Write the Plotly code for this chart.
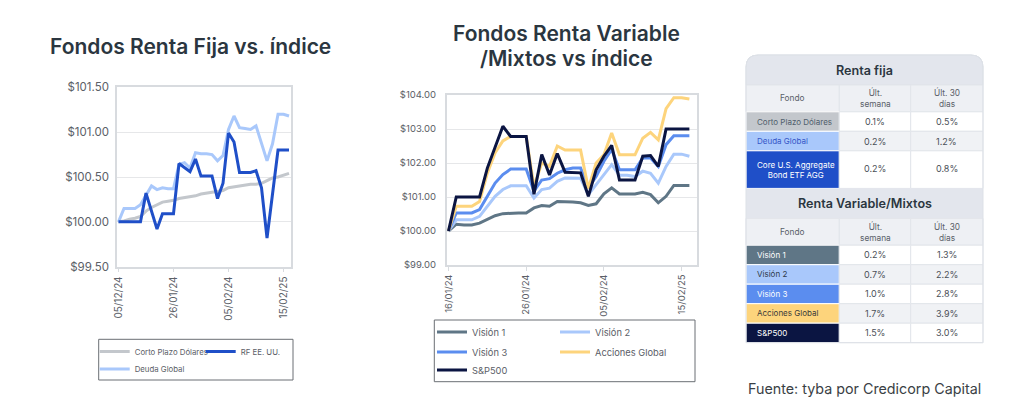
import plotly.graph_objects as go

W, H = 1024, 409
OFF = 8  # the page body adds an 8px margin around the figure
FONT = "Inter, sans-serif"

# ---------------- data ----------------
idx = list(range(32))

rf_tickvals = [0, 10, 20, 30]
rf_ticktext = ["05/12/24", "26/01/24", "05/02/24", "15/02/25"]

corto = [100.00, 100.01, 100.03, 100.04, 100.06, 100.12, 100.16, 100.19, 100.22, 100.23,
         100.24, 100.26, 100.27, 100.28, 100.29, 100.31, 100.32, 100.33, 100.34, 100.35,
         100.38, 100.39, 100.40, 100.41, 100.42, 100.42, 100.43, 100.46, 100.49, 100.50,
         100.52, 100.54]
deuda = [100.00, 100.15, 100.15, 100.15, 100.19, 100.29, 100.40, 100.36, 100.38, 100.37,
         100.37, 100.64, 100.66, 100.60, 100.77, 100.76, 100.76, 100.75, 100.68, 100.74,
         101.03, 101.18, 101.05, 101.04, 101.03, 101.07, 100.87, 100.68, 100.87, 101.20,
         101.20, 101.18]
rf_us = [100.00, 100.00, 100.00, 100.00, 100.00, 100.32, 100.12, 99.92, 100.09, 100.09,
         100.09, 100.65, 100.60, 100.56, 100.70, 100.51, 100.51, 100.51, 100.26, 100.43,
         100.99, 100.89, 100.55, 100.55, 100.55, 100.57, 100.38, 99.82, 100.32, 100.80,
         100.80, 100.80]

rv_tickvals = [0, 10, 20, 30]
rv_ticktext = ["16/01/24", "26/01/24", "05/02/24", "15/02/25"]

vision1 = [100.00, 100.20, 100.18, 100.18, 100.23, 100.33, 100.45, 100.51, 100.53, 100.53,
           100.53, 100.68, 100.75, 100.73, 100.87, 100.87, 100.85, 100.83, 100.75, 100.80,
           101.09, 101.27, 101.09, 101.09, 101.09, 101.14, 101.07, 100.83, 101.02, 101.34,
           101.34, 101.34]
vision2 = [100.00, 100.33, 100.33, 100.33, 100.43, 100.73, 101.02, 101.22, 101.33, 101.33,
           101.33, 100.97, 101.22, 101.26, 101.46, 101.56, 101.56, 101.55, 101.07, 101.37,
           101.66, 101.95, 101.64, 101.64, 101.60, 101.76, 101.70, 101.41, 101.90, 102.26,
           102.26, 102.20]
vision3 = [100.00, 100.53, 100.53, 100.53, 100.63, 101.02, 101.41, 101.66, 101.82, 101.82,
           101.82, 101.17, 101.50, 101.54, 101.70, 101.80, 101.85, 101.85, 101.27, 101.60,
           102.05, 102.40, 101.80, 101.80, 101.80, 102.15, 102.15, 101.90, 102.54, 102.80,
           102.80, 102.80]
acciones = [100.00, 100.73, 100.73, 100.73, 100.87, 101.70, 102.30, 102.65, 102.78, 102.78,
            102.78, 101.30, 102.00, 101.90, 102.50, 102.38, 102.38, 102.38, 101.25, 102.00,
            102.24, 102.88, 102.24, 102.24, 102.24, 102.73, 102.90, 102.68, 103.60, 103.92,
            103.92, 103.88]
sp500 = [100.00, 101.00, 101.00, 101.00, 101.00, 101.85, 102.45, 103.08, 102.78, 102.78,
         102.78, 101.08, 102.25, 101.65, 102.28, 101.73, 101.71, 101.71, 101.02, 101.80,
         102.20, 102.52, 101.50, 101.50, 101.50, 102.20, 102.22, 101.90, 103.00, 103.00,
         103.00, 103.00]

# titles / table data
title_left = "Fondos Renta Fija vs. índice"
title_right = ["Fondos Renta Variable", "/Mixtos vs índice"]
source_text = "Fuente: tyba por Credicorp Capital"
tbl_header = ["Fondo", "Últ.<br>semana", "Últ. 30<br>días"]
rf_title = "Renta fija"
rf_funds = ["Corto Plazo Dólares", "Deuda Global", "Core U.S. Aggregate<br>Bond ETF AGG"]
rf_week = ["0.1%", "0.2%", "0.2%"]
rf_30d = ["0.5%", "1.2%", "0.8%"]
rv_title = "Renta Variable/Mixtos"
rv_funds = ["Visión 1", "Visión 2", "Visión 3", "Acciones Global", "S&P500"]
rv_week = ["0.2%", "0.7%", "1.0%", "1.7%", "1.5%"]
rv_30d = ["1.3%", "2.2%", "2.8%", "3.9%", "3.0%"]

# ---------------- styles ----------------
C_CORTO, C_DEUDA, C_RF = "#c3c7cc", "#a9c8fb", "#1f4fc8"
C_V1, C_V2, C_V3, C_ACC, C_SP = "#5f7686", "#a9c8fb", "#5b8def", "#fdd47c", "#0b1542"
rf_fill = [C_CORTO, C_DEUDA, C_RF]
rf_fg = ["#4f5d6b", "#3556c8", "#ffffff"]
rv_fill = [C_V1, C_V2, C_V3, C_ACC, C_SP]
rv_fg = ["#ffffff", "#2d3a4a", "#ffffff", "#3a3a3a", "#ffffff"]


def px_x(p):
    return (p - OFF) / W


def px_y(p):
    return 1 - (p - OFF) / H


fig = go.Figure()

LW = 3
fig.add_trace(go.Scatter(x=idx, y=corto, name="Corto Plazo Dólares", mode="lines",
                         line=dict(color=C_CORTO, width=LW), xaxis="x", yaxis="y", legend="legend"))
fig.add_trace(go.Scatter(x=idx, y=deuda, name="Deuda Global", mode="lines",
                         line=dict(color=C_DEUDA, width=LW), xaxis="x", yaxis="y", legend="legend2"))
fig.add_trace(go.Scatter(x=idx, y=rf_us, name="RF EE. UU.", mode="lines",
                         line=dict(color=C_RF, width=LW), xaxis="x", yaxis="y", legend="legend"))

for name, vals, col, lg in [("Visión 1", vision1, C_V1, "legend3"),
                            ("Visión 2", vision2, C_V2, "legend3"),
                            ("Visión 3", vision3, C_V3, "legend4"),
                            ("Acciones Global", acciones, C_ACC, "legend4"),
                            ("S&P500", sp500, C_SP, "legend5")]:
    fig.add_trace(go.Scatter(x=idx, y=vals, name=name, mode="lines",
                             line=dict(color=col, width=LW), xaxis="x2", yaxis="y2", legend=lg))

AX_LINE = "#d8dbdf"
GRID = "#e6e7e9"
TICK_C = "#5b6067"

common_x = dict(showline=True, mirror=True, linecolor=AX_LINE, linewidth=1.5, showgrid=False,
                zeroline=False, ticks="outside", ticklen=4, tickcolor=AX_LINE, tickangle=-90,
                fixedrange=True, automargin=False)
common_y = dict(showline=True, mirror=True, linecolor=AX_LINE, linewidth=1.5, showgrid=True,
                gridcolor=GRID, gridwidth=1, zeroline=False, ticks="", tickprefix="$",
                tickformat=",.2f", fixedrange=True, automargin=False)

fig.update_layout(
    width=W, height=H, autosize=False,
    margin=dict(l=0, r=0, t=0, b=0, pad=0, autoexpand=False),
    paper_bgcolor="white", plot_bgcolor="white",
    font=dict(family=FONT, color=TICK_C),
    showlegend=True,
    xaxis=dict(common_x, domain=[px_x(117), px_x(291)], range=[-0.27, 31.36], anchor="y",
               tickmode="array", tickvals=rf_tickvals, ticktext=rf_ticktext,
               tickfont=dict(size=10, color=TICK_C)),
    yaxis=dict(common_y, domain=[px_y(266.7), px_y(87.3)], range=[99.5, 101.5], dtick=0.5,
               anchor="x", tickfont=dict(size=11.5, color=TICK_C), ticklabelstandoff=4),
    xaxis2=dict(common_x, domain=[px_x(446.7), px_x(697)], range=[-0.23, 31.98], anchor="y2",
                tickmode="array", tickvals=rv_tickvals, ticktext=rv_ticktext,
                tickfont=dict(size=9.5, color=TICK_C)),
    yaxis2=dict(common_y, domain=[px_y(265), px_y(95)], range=[99, 104], dtick=1,
                anchor="x2", tickfont=dict(size=9.5, color=TICK_C), ticklabelstandoff=7),
    xaxis3=dict(domain=[px_x(745), px_x(984)], range=[-1, 238], visible=False, anchor="y3",
                fixedrange=True),
    yaxis3=dict(domain=[px_y(346), px_y(54)], range=[291, -1], visible=False, anchor="x3",
                fixedrange=True),
)

leg_common = dict(orientation="h", bgcolor="rgba(0,0,0,0)", borderwidth=0, xanchor="left",
                  yanchor="top", entrywidthmode="pixels", tracegroupgap=0, itemclick=False,
                  itemdoubleclick=False)
LF_L = dict(size=7.8, color=TICK_C, family=FONT)
LF_R = dict(size=9.3, color=TICK_C, family=FONT)
fig.update_layout(
    legend=dict(leg_common, x=px_x(94.7), y=px_y(337), entrywidth=61, font=LF_L),
    legend2=dict(leg_common, x=px_x(94.7), y=px_y(354.5), entrywidth=61, font=LF_L),
    legend3=dict(leg_common, x=px_x(432), y=px_y(317.5), entrywidth=78, font=LF_R),
    legend4=dict(leg_common, x=px_x(432), y=px_y(337.5), entrywidth=78, font=LF_R),
    legend5=dict(leg_common, x=px_x(432), y=px_y(355.5), entrywidth=78, font=LF_R),
)

shapes = []
annots = []

# legend frames
for (x0, y0, x1, y1) in [(98.7, 339.3, 293, 380), (434.3, 320, 695, 381.7)]:
    shapes.append(dict(type="rect", xref="paper", yref="paper", x0=px_x(x0), x1=px_x(x1),
                       y0=px_y(y1), y1=px_y(y0), line=dict(color="#6b6f74", width=1),
                       fillcolor="rgba(0,0,0,0)", layer="above"))

# titles
TITLE_C = "#2b3640"
TITLE_F = dict(family=FONT, size=21, color=TITLE_C, weight=600)
annots.append(dict(text=title_left, x=px_x(190), y=px_y(47), xref="paper",
                   yref="paper", showarrow=False, xanchor="center", yanchor="middle",
                   font=TITLE_F))
for k, line in enumerate(title_right):
    annots.append(dict(text=line, x=px_x(566), y=px_y(33 + 25 * k), xref="paper",
                       yref="paper", showarrow=False, xanchor="center", yanchor="middle",
                       font=TITLE_F))
annots.append(dict(text=source_text, x=px_x(746), y=px_y(388.5),
                   xref="paper", yref="paper", showarrow=False, xanchor="left", yanchor="middle",
                   font=dict(family=FONT, size=14.3, color="#3a3f45")))

# ---------------- table (drawn on hidden axis x3/y3, units = px) ----------------
col_edges = [0, 93.3, 164.7, 237]
TW = col_edges[-1]
TITLE_H, HEAD_H, ROW_H, ROW2_H = 30, 26.8, 19.5, 37.6
TITLE_BG, HEAD_BG, ALT_BG = "#e3e6ed", "#eef0f4", "#f0f2f5"
CELL_LINE = dict(color="#e2e5ea", width=1)
R = 12


def tshape(x0, y0, x1, y1, fill, line=None):
    shapes.append(dict(type="rect", xref="x3", yref="y3", x0=x0, x1=x1, y0=y0, y1=y1,
                       fillcolor=fill, line=line or dict(width=0), layer="below"))


def ttext(text, x, y, anchor="center", size=9, color="#5a6069", weight=400):
    annots.append(dict(text=text, x=x, y=y, xref="x3", yref="y3", showarrow=False,
                       xanchor=anchor, yanchor="middle",
                       font=dict(family=FONT, size=size, color=color, weight=weight)))


def draw_section(y, title, funds, week, d30, fills, fgs, rounded):
    if rounded:
        path = (f"M 0 {y + TITLE_H} L 0 {y + R} Q 0 {y} {R} {y} L {TW - R} {y} "
                f"Q {TW} {y} {TW} {y + R} L {TW} {y + TITLE_H} Z")
        shapes.append(dict(type="path", xref="x3", yref="y3", path=path, fillcolor=TITLE_BG,
                           line=dict(color="#dde1e7", width=1), layer="below"))
    else:
        tshape(0, y, TW, y + TITLE_H, TITLE_BG)
    ttext(title, TW / 2, y + TITLE_H / 2 + 0.5, size=12.6, color=TITLE_C, weight=600)
    y += TITLE_H
    for c in range(3):
        tshape(col_edges[c], y, col_edges[c + 1], y + HEAD_H, HEAD_BG, CELL_LINE)
        ttext(tbl_header[c], (col_edges[c] + col_edges[c + 1]) / 2, y + HEAD_H / 2,
              size=8.3, color="#5a6069")
    y += HEAD_H
    for i, name in enumerate(funds):
        h = ROW2_H if "<br>" in name else ROW_H
        bg = "#ffffff" if i % 2 == 0 else ALT_BG
        tshape(col_edges[0], y, col_edges[1], y + h, fills[i], dict(color="#ffffff", width=1))
        ttext(name, 8.5, y + h / 2, anchor="left", size=8, color=fgs[i])
        for c, vals in ((1, week), (2, d30)):
            tshape(col_edges[c], y, col_edges[c + 1], y + h, bg, CELL_LINE)
            ttext(vals[i], (col_edges[c] + col_edges[c + 1]) / 2, y + h / 2 - (1.5 if h > 30 else 0),
                  size=9, color="#4a4f57")
        y += h
    return y


y_next = draw_section(0, rf_title, rf_funds, rf_week, rf_30d, rf_fill, rf_fg, True)
y_end = draw_section(y_next, rv_title, rv_funds, rv_week, rv_30d, rv_fill, rv_fg, False)
shapes.append(dict(type="path", xref="x3", yref="y3",
                   path=(f"M 0 {y_end} L 0 {R} Q 0 0 {R} 0 L {TW - R} 0 Q {TW} 0 {TW} {R} "
                         f"L {TW} {y_end} Z"),
                   fillcolor="rgba(0,0,0,0)", line=dict(color="#dde1e7", width=1), layer="below"))

fig.update_layout(shapes=shapes, annotations=annots)
fig.write_html("out.html")
